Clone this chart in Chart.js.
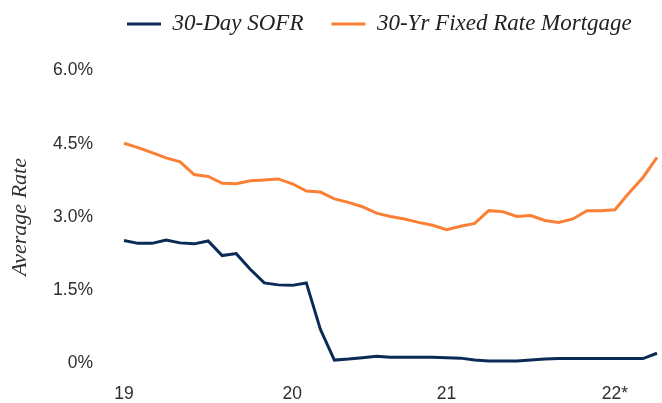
<!DOCTYPE html>
<html><head><meta charset="utf-8">
<script src="https://cdn.jsdelivr.net/npm/chart.js@4/dist/chart.umd.min.js"></script>
<style>html,body{margin:0;padding:0;background:#fff;}#wrap{width:662px;height:403px;}</style>
</head><body><div id="wrap"><canvas id="c" width="662" height="403"></canvas></div>
<script>
// x categories (only some are labelled)
const xLabels = ['19','','','','','','','','','','','',
                 '20','','','','','','','','','','',
                 '21','','','','','','','','','','','',
                 '22*','','',''];
const seriesNames = ['30-Day SOFR', '30-Yr Fixed Rate Mortgage'];
const sofr = [2.52,2.46,2.46,2.53,2.47,2.45,2.51,2.21,2.25,1.93,1.65,1.61,1.60,1.65,0.70,0.07,0.09,0.12,0.15,0.13,
              0.13,0.13,0.13,0.12,0.11,0.07,0.05,0.05,0.05,0.07,0.09,0.10,0.10,0.10,0.10,0.10,0.10,0.10,0.21];
const mortgage = [4.51,4.42,4.32,4.21,4.13,3.87,3.83,3.69,3.68,3.74,3.76,3.78,3.68,3.53,3.51,3.37,3.30,3.21,3.08,3.01,
                  2.96,2.89,2.83,2.74,2.81,2.87,3.13,3.11,3.01,3.03,2.93,2.89,2.96,3.13,3.13,3.15,3.49,3.81,4.22];
const yTickValues = [0, 1.5, 3, 4.5, 6];
const yTickLabels = ['0%', '1.5%', '3.0%', '4.5%', '6.0%'];
const yTitle = 'Average Rate';

const NAVY = '#0b2b57';
const ORANGE = '#fb8036';
const TEXT = '#2e2e2e';

const legendPlace = {
  id: 'legendPlace',
  afterLayout(chart) {
    const lg = chart.legend;
    const P = lg.options.labels.padding;
    const fs = lg.options.labels.font.size;
    lg.left = 127 - P;
    lg.right = 800;
    lg.top = 24 - P - fs / 2;
  }
};

new Chart(document.getElementById('c'), {
  type: 'line',
  data: {
    labels: xLabels,
    datasets: [
      { label: seriesNames[0], data: sofr, borderColor: NAVY, backgroundColor: NAVY,
        borderWidth: 3, pointRadius: 0, tension: 0, borderJoinStyle: 'miter' },
      { label: seriesNames[1], data: mortgage, borderColor: ORANGE, backgroundColor: ORANGE,
        borderWidth: 3, pointRadius: 0, tension: 0, borderJoinStyle: 'miter' }
    ]
  },
  options: {
    responsive: false,
    animation: false,
    devicePixelRatio: 1,
    layout: { padding: { top: 9.5, right: 5, bottom: 0, left: 0 } },
    plugins: {
      tooltip: { enabled: false },
      legend: {
        position: 'top',
        align: 'start',
        labels: {
          boxWidth: 34,
          boxHeight: 3,
          padding: 28,
          color: '#222',
          font: { family: '"Liberation Serif", serif', style: 'italic', size: 23 },
          generateLabels(chart) {
            const items = Chart.defaults.plugins.legend.labels.generateLabels(chart);
            items.forEach(it => { it.lineWidth = 0; it.fillStyle = it.strokeStyle; });
            return items;
          }
        }
      }
    },
    scales: {
      x: {
        type: 'category',
        offset: false,
        grid: { display: false, drawTicks: false },
        border: { display: false },
        ticks: {
          autoSkip: false, maxRotation: 0, minRotation: 0, padding: 22,
          color: TEXT, font: { family: '"Liberation Sans", Arial, sans-serif', size: 17.5, lineHeight: 1 }
        },
        afterFit(scale) { scale.height = 39.5; scale.paddingLeft = 0; scale.paddingRight = 0; }
      },
      y: {
        min: 0, max: 6,
        afterBuildTicks(scale) { scale.ticks = yTickValues.map(v => ({ value: v })); },
        grid: { display: false, drawTicks: false },
        border: { display: false },
        ticks: {
          padding: 31, color: TEXT,
          font: { family: '"Liberation Sans", Arial, sans-serif', size: 17.5 },
          callback(v) { const i = yTickValues.indexOf(v); return i >= 0 ? yTickLabels[i] : ''; }
        },
        title: {
          display: true, text: yTitle, color: TEXT,
          padding: { top: 7, bottom: 0 },
          font: { family: '"Liberation Serif", serif', style: 'italic', size: 22 }
        },
        afterFit(scale) { scale.width = 124; scale.paddingTop = 0; scale.paddingBottom = 0; }
      }
    }
  },
  plugins: [legendPlace]
});
</script>
</body></html>
